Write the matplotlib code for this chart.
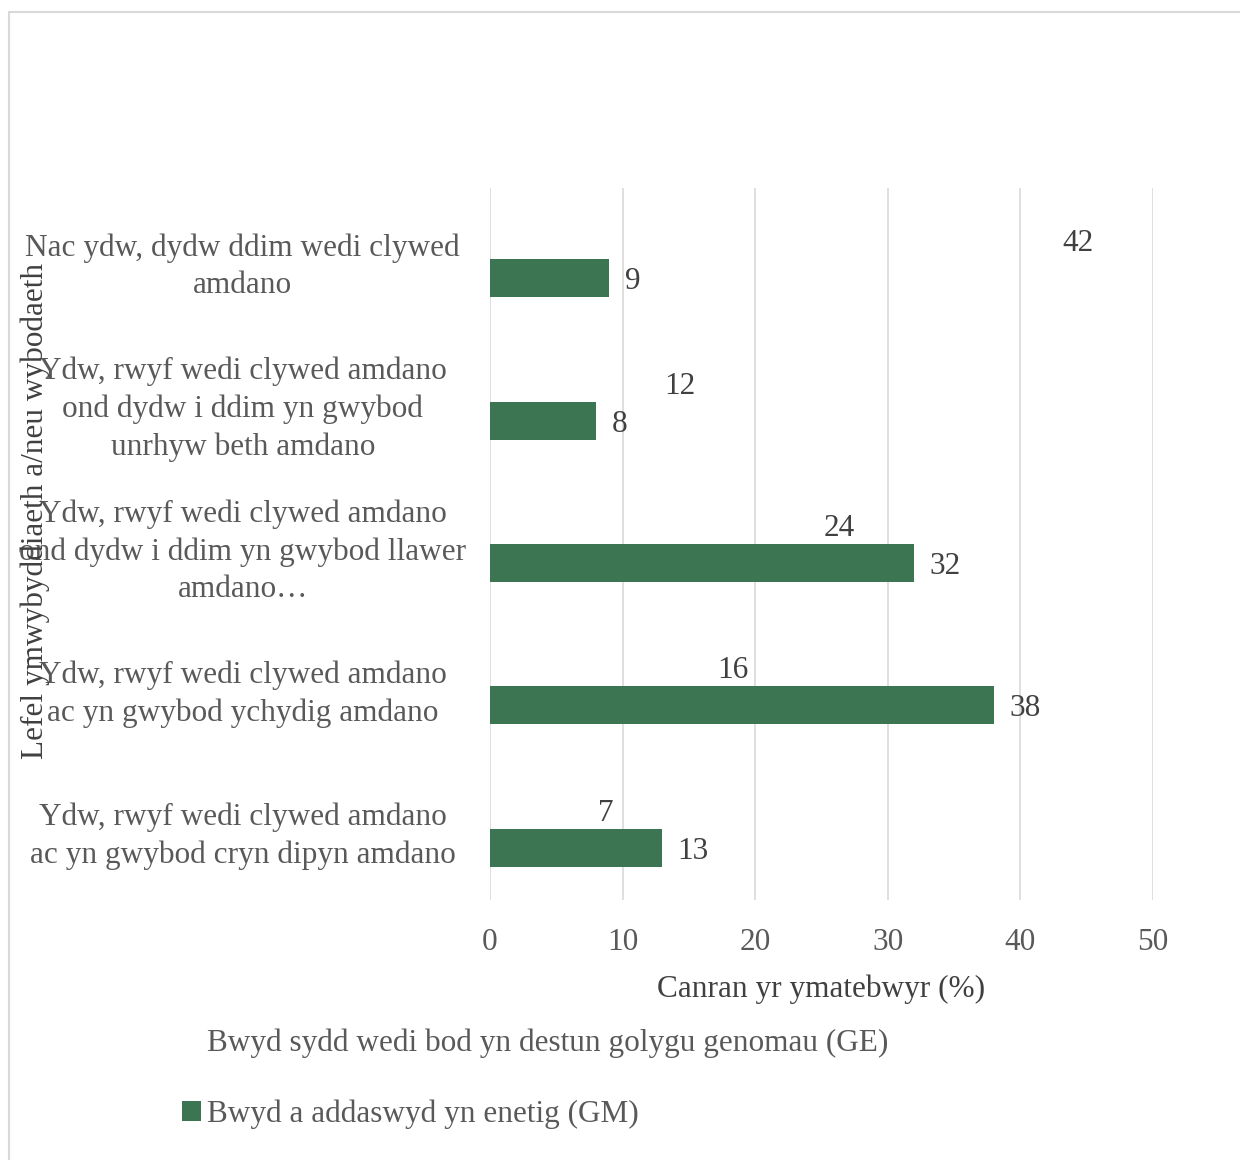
import matplotlib
matplotlib.use("Agg")
import matplotlib.pyplot as plt
import matplotlib.patches as patches
import numpy as np

# Awareness levels (top to bottom) and share of respondents per food type
categories = [
    "Nac ydw, dydw ddim wedi clywed\namdano",
    "Ydw, rwyf wedi clywed amdano\nond dydw i ddim yn gwybod\nunrhyw beth amdano",
    "Ydw, rwyf wedi clywed amdano\nond dydw i ddim yn gwybod llawer\namdano…",
    "Ydw, rwyf wedi clywed amdano\nac yn gwybod ychydig amdano",
    "Ydw, rwyf wedi clywed amdano\nac yn gwybod cryn dipyn amdano",
]
ge_values = [42, 12, 24, 16, 7]
gm_values = [9, 8, 32, 38, 13]
ge_name = "Bwyd sydd wedi bod yn destun golygu genomau (GE)"
gm_name = "Bwyd a addaswyd yn enetig (GM)"
x_ticks = [0, 10, 20, 30, 40, 50]

GREEN = "#3b7551"
GRID = "#d9d9d9"
TICK_TXT = "#595959"
DARK_TXT = "#404040"
FS = 22.5

plt.rcParams["font.family"] = ["Liberation Serif", "DejaVu Serif"]

fig = plt.figure(figsize=(12.4, 11.6), dpi=100)
ax = fig.add_axes([490 / 1240, 1 - 900 / 1160, 663 / 1240, 712 / 1160])

# light frame around the chart area
frame = patches.Rectangle((9 / 1240, -0.2), 1.2, 1.2 - 12 / 1160,
                          transform=fig.transFigure, fill=False,
                          edgecolor=GRID, linewidth=1.5)
fig.patches.append(frame)

y = np.arange(len(categories))
h = 0.267
ge_bars = ax.barh(y - h / 2, ge_values, height=h, facecolor="none",
                  edgecolor="none", label=ge_name)
gm_bars = ax.barh(y + h / 2, gm_values, height=h, color=GREEN, label=gm_name)

for bars in (ge_bars, gm_bars):
    for t in ax.bar_label(bars, padding=11, fontsize=FS, color=DARK_TXT):
        t.set_va("center_baseline")

ax.set_ylim(len(categories) - 0.5, -0.5)
ax.set_xlim(0, 50)
ax.set_xticks(x_ticks)
ax.set_yticks(y)
ax.set_yticklabels(categories, ha="center", multialignment="center",
                   linespacing=1.37)
ax.tick_params(axis="y", length=0, pad=178, labelsize=FS, labelcolor=TICK_TXT)
ax.tick_params(axis="x", length=0, pad=20, labelsize=FS, labelcolor=TICK_TXT)

ax.grid(axis="x", color=GRID, linewidth=1.2)
ax.set_axisbelow(True)
for s in ax.spines.values():
    s.set_visible(False)

ax.set_xlabel("Canran yr ymatebwyr (%)", fontsize=FS, color=DARK_TXT)
ax.xaxis.set_label_coords(0.5, -0.104)
ax.set_ylabel("Lefel ymwybyddiaeth a/neu wybodaeth", fontsize=FS, color=DARK_TXT)
ax.yaxis.set_label_coords(-0.664, 0.546)

fig.legend(handles=[ge_bars, gm_bars], loc="upper left",
           bbox_to_anchor=(182 / 1240, 1 - 1028 / 1160), frameon=False,
           fontsize=FS, labelcolor=TICK_TXT, handlelength=0.6,
           handleheight=0.6, handletextpad=0.2, labelspacing=1.35,
           borderpad=0, borderaxespad=0)

fig.savefig("out.png", dpi=100)
